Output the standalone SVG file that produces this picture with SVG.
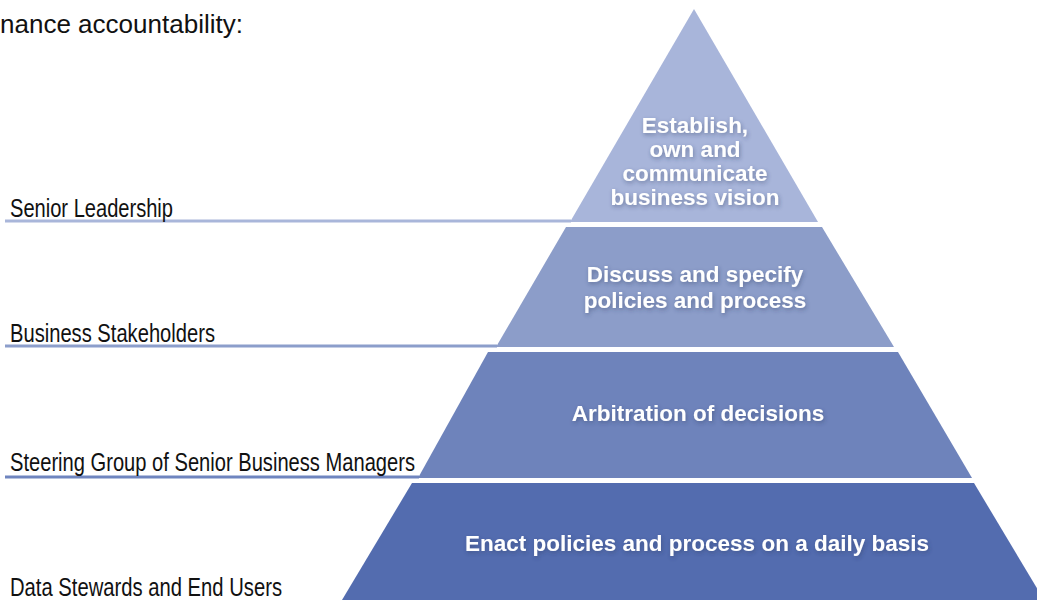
<svg xmlns="http://www.w3.org/2000/svg" width="1037" height="600" viewBox="0 0 1037 600">
<style>
.lbl{font-family:"Liberation Sans",Arial,sans-serif;font-size:25px;fill:#111}
.top{font-family:"Liberation Sans",Arial,sans-serif;font-size:26px;fill:#111}
.pt{font-family:"Liberation Sans",Arial,sans-serif;font-size:22.5px;font-weight:bold;fill:#fff;text-anchor:middle;filter:url(#sh)}
.ln{stroke-width:3;fill:none}
</style>
<defs>
<filter id="sh" x="-10%" y="-30%" width="120%" height="160%">
<feDropShadow dx="1" dy="2" stdDeviation="2" flood-color="#2a3760" flood-opacity="0.45"/>
</filter>
</defs>
<rect width="1037" height="600" fill="#fff"/>
<text class="top" x="0" y="33" textLength="243" lengthAdjust="spacingAndGlyphs">nance accountability:</text>

<g id="connectors">
<line class="ln" x1="5" y1="221" x2="571" y2="221" stroke="#a9b6da"/>
<line class="ln" x1="5" y1="346" x2="497" y2="346" stroke="#8c9ecb"/>
<line class="ln" x1="5" y1="477" x2="419" y2="477" stroke="#6f85bf"/>
</g>

<g id="layer1">
<polygon points="694,9 818,222 570,222" fill="#a8b5da"/>
<text class="pt" x="695" y="133">Establish,</text>
<text class="pt" x="695" y="157">own and</text>
<text class="pt" x="695" y="181">communicate</text>
<text class="pt" x="695" y="205">business vision</text>
</g>
<g id="layer2">
<polygon points="566,227 822,227 894,347 496,347" fill="#8c9dc9"/>
<text class="pt" x="695" y="282">Discuss and specify</text>
<text class="pt" x="695" y="308">policies and process</text>
</g>
<g id="layer3">
<polygon points="488,352 898,352 972,478 418,478" fill="#6e83bb"/>
<text class="pt" x="698" y="421">Arbitration of decisions</text>
</g>
<g id="layer4">
<polygon points="412,483 974,483 1044,600 342,600" fill="#536caf"/>
<text class="pt" x="697" y="551">Enact policies and process on a daily basis</text>
</g>

<g id="labels">
<text class="lbl" x="10" y="217" textLength="163" lengthAdjust="spacingAndGlyphs">Senior Leadership</text>
<text class="lbl" x="10" y="342" textLength="205" lengthAdjust="spacingAndGlyphs">Business Stakeholders</text>
<text class="lbl" x="10" y="471" textLength="405" lengthAdjust="spacingAndGlyphs">Steering Group of Senior Business Managers</text>
<text class="lbl" x="10" y="596" textLength="272" lengthAdjust="spacingAndGlyphs">Data Stewards and End Users</text>
</g>
</svg>
